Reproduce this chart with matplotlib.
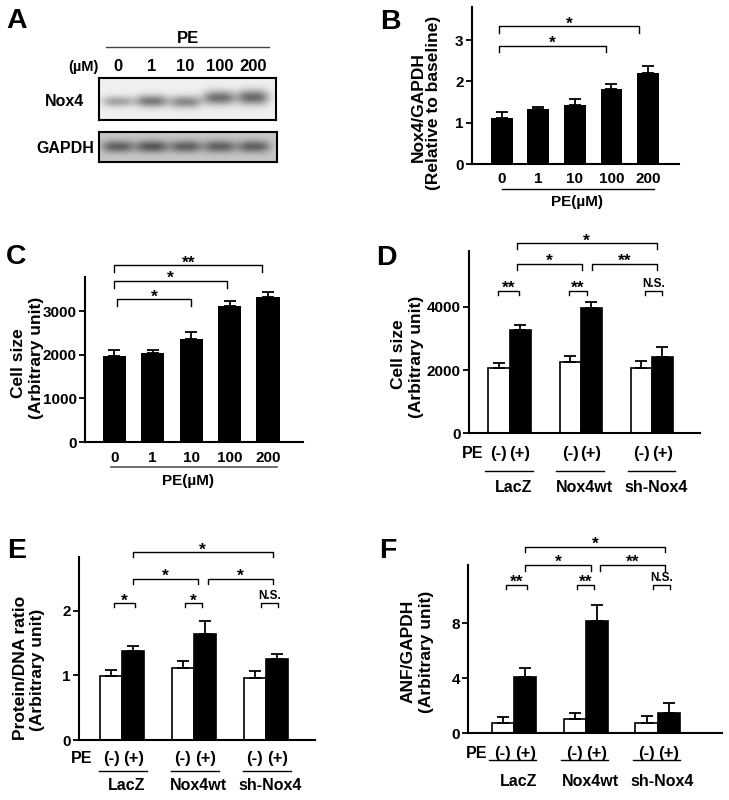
import numpy as np
import matplotlib
matplotlib.use('Agg')
import matplotlib.pyplot as plt
from matplotlib.lines import Line2D
from matplotlib.transforms import blended_transform_factory

plt.rcParams['font.family'] = ['Liberation Sans', 'DejaVu Sans']
plt.rcParams['font.weight'] = 'bold'

W, H = 729, 800

# ---- data ----
pe_doses = ['0', '1', '10', '100', '200']

# A: western blot band darkness per lane
nox4_band = [0.30, 0.46, 0.40, 0.50, 0.52]
nox4_band_y = [0.56, 0.55, 0.57, 0.47, 0.46]
nox4_band_h = [0.13, 0.15, 0.15, 0.17, 0.18]
gapdh_band = [0.40, 0.44, 0.40, 0.40, 0.40]

# B: Nox4/GAPDH
nox4_ratio = [1.12, 1.32, 1.42, 1.82, 2.20]
nox4_ratio_err = [0.15, 0.07, 0.15, 0.12, 0.18]

# C: cell size vs PE dose
cell_size_dose = [1960, 2030, 2370, 3120, 3330]
cell_size_dose_err = [140, 70, 150, 120, 95]

groups = ['LacZ', 'Nox4wt', 'sh-Nox4']
pe_signs = ['(-)', '(+)']

# D: cell size
cell_size_ctrl = [2050, 2250, 2050]
cell_size_ctrl_err = [180, 190, 240]
cell_size_pe = [3260, 3950, 2420]
cell_size_pe_err = [150, 190, 320]

# E: protein/DNA ratio
prot_dna_ctrl = [0.99, 1.12, 0.96]
prot_dna_ctrl_err = [0.09, 0.10, 0.11]
prot_dna_pe = [1.38, 1.64, 1.26]
prot_dna_pe_err = [0.07, 0.20, 0.07]

# F: ANF/GAPDH
anf_ctrl = [0.77, 1.02, 0.77]
anf_ctrl_err = [0.39, 0.43, 0.49]
anf_pe = [4.07, 8.19, 1.45]
anf_pe_err = [0.66, 1.14, 0.78]

fig = plt.figure(figsize=(W / 100, H / 100), dpi=100)


def px_axes(x0, y0, x1, y1):
    return fig.add_axes([x0 / W, 1 - y1 / H, (x1 - x0) / W, (y1 - y0) / H])


def fy(py):
    return 1 - py / H


def fx(px):
    return px / W


def style(ax):
    for s in ['top', 'right']:
        ax.spines[s].set_visible(False)
    ax.spines['left'].set_linewidth(1.5)
    ax.spines['bottom'].set_linewidth(1.5)
    ax.tick_params(axis='y', length=4, width=1.3, labelsize=11, pad=2)
    ax.set_xticks([])
    ax.patch.set_alpha(0)


def bracket(ax, x1, x2, y, drop, label):
    ax.plot([x1, x1, x2, x2], [y - drop, y, y, y - drop], color='k', lw=1.0, clip_on=False)
    if label == 'N.S.':
        ax.annotate(label, ((x1 + x2) / 2, y), xytext=(0, 3), textcoords='offset points',
                    ha='center', va='baseline', fontsize=8.5, annotation_clip=False)
    else:
        ax.annotate(label, ((x1 + x2) / 2, y), xytext=(0, -1.6), textcoords='offset points',
                    ha='center', va='baseline', fontsize=12.5, annotation_clip=False)


def ylab(px, py, s):
    fig.text(fx(px), fy(py), s, rotation=90, ha='center', va='center', fontsize=12.5)


def letter(px, py, s):
    fig.text(fx(px), fy(py), s, ha='center', va='center', fontsize=20.5)


ekw = dict(elinewidth=1.3, capthick=1.3)

# ---------------- A: blot ----------------
axN = px_axes(99, 78.3, 276, 120)
axG = px_axes(99, 131.7, 276.7, 162.3)
lanes = np.arange(len(pe_doses))
ext_l, ext_r = -0.56, 4.68
xs = np.linspace(ext_l, ext_r, 360)
ys = np.linspace(0, 1, 90)
X, Y = np.meshgrid(xs, ys)

img = np.full(X.shape, 0.94)
for i in lanes:
    img -= nox4_band[i] * np.exp(-(np.abs(X - i) / 0.47) ** 3) * \
        np.exp(-((Y - nox4_band_y[i]) / nox4_band_h[i]) ** 2)
axN.imshow(img, cmap='gray', vmin=0, vmax=1, extent=(ext_l, ext_r, 1, 0),
           aspect='auto', interpolation='bilinear')

img2 = np.full(X.shape, 0.78)
for i in lanes:
    img2 -= gapdh_band[i] * np.exp(-(np.abs(X - i) / 0.47) ** 3) * \
        np.exp(-((Y - 0.5) / 0.2) ** 2)
axG.imshow(img2, cmap='gray', vmin=0, vmax=1, extent=(ext_l, ext_r, 1, 0),
           aspect='auto', interpolation='bilinear')

for ax in (axN, axG):
    ax.set_xticks([])
    ax.set_yticks([])
    for s in ax.spines.values():
        s.set_linewidth(1.5)

tA = blended_transform_factory(axN.transData, fig.transFigure)
for i, lab in enumerate(pe_doses):
    axN.text(lanes[i], fy(66.7), lab, transform=tA, ha='center', va='center', fontsize=12)
fig.text(fx(188), fy(38.3), 'PE', ha='center', va='center', fontsize=12)
fig.add_artist(Line2D([fx(106), fx(269)], [fy(46.7), fy(46.7)], color='#444444', lw=1.0,
                      transform=fig.transFigure))
fig.text(fx(83), fy(66.7), '(µM)', ha='center', va='center', fontsize=10.5)
fig.text(fx(65), fy(101.7), 'Nox4', ha='center', va='center', fontsize=11.5)
fig.text(fx(65), fy(148.3), 'GAPDH', ha='center', va='center', fontsize=11.5)
letter(16.3, 21, 'A')

# ---------------- B ----------------
axB = px_axes(472, 7, 679, 164)
xB = np.arange(len(pe_doses))
axB.bar(xB, nox4_ratio, width=0.6, color='k', yerr=[np.zeros(len(xB)), nox4_ratio_err],
        capsize=4, error_kw=ekw)
axB.set_xlim(-0.82, 4.85)
axB.set_ylim(0, 3.8)
axB.set_yticks([0, 1, 2, 3])
style(axB)
tB = blended_transform_factory(axB.transData, fig.transFigure)
for i, lab in enumerate(pe_doses):
    axB.text(xB[i], fy(179), lab, transform=tB, ha='center', va='center', fontsize=11)
axB.plot([xB[0], xB[-1] + 0.16], [fy(189), fy(189)], transform=tB, color='k', lw=1.0, clip_on=False)
axB.text((xB[0] + xB[-1]) / 2 + 0.05, fy(202), 'PE(µM)', transform=tB, ha='center', va='center',
         fontsize=11)
bracket(axB, xB[0] - 0.08, xB[3] - 0.15, 2.86, 0.15, '*')
bracket(axB, xB[0] - 0.08, xB[4] - 0.25, 3.33, 0.15, '*')
ylab(418.3, 107, 'Nox4/GAPDH')
ylab(433.3, 103, '(Relative to baseline)')
letter(390, 21.7, 'B')

# ---------------- C ----------------
axC = px_axes(85, 277, 303, 442)
xC = np.arange(len(pe_doses))
axC.bar(xC, cell_size_dose, width=0.6, color='k',
        yerr=[np.zeros(len(xC)), cell_size_dose_err], capsize=4, error_kw=ekw)
axC.set_xlim(-0.76, 4.91)
axC.set_ylim(0, 3780)
axC.set_yticks([0, 1000, 2000, 3000])
style(axC)
tC = blended_transform_factory(axC.transData, fig.transFigure)
for i, lab in enumerate(pe_doses):
    axC.text(xC[i], fy(458.3), lab, transform=tC, ha='center', va='center', fontsize=11)
axC.plot([xC[0] - 0.08, xC[-1] + 0.23], [fy(466.7), fy(466.7)], transform=tC, color='#555555',
         lw=1.2, clip_on=False)
axC.text(1.93, fy(480.7), 'PE(µM)', transform=tC, ha='center', va='center', fontsize=11)
bracket(axC, xC[0] + 0.07, xC[2], 3265, 160, '*')
bracket(axC, xC[0], xC[3] - 0.06, 3691, 160, '*')
bracket(axC, xC[0], xC[4] - 0.15, 4050, 160, '**')
ylab(18.3, 363, 'Cell size')
ylab(36.7, 358, '(Arbitrary unit)')
letter(16.3, 257, 'C')


# ---------------- grouped panels ----------------
def grouped(ax, ctrl, ctrl_err, pe, pe_err, width, ytick_y, line_y, group_y, line_span):
    g = np.arange(len(groups))
    ax.bar(g - width / 2, ctrl, width=width, color='white', edgecolor='k', linewidth=1.2,
           yerr=[np.zeros(len(g)), ctrl_err], capsize=4, error_kw=ekw)
    ax.bar(g + width / 2, pe, width=width, color='k', edgecolor='k', linewidth=1.2,
           yerr=[np.zeros(len(g)), pe_err], capsize=4, error_kw=ekw)
    style(ax)
    t = blended_transform_factory(ax.transData, fig.transFigure)
    for i in g:
        ax.text(i - width / 2, fy(ytick_y), pe_signs[0], transform=t, ha='center', va='center',
                fontsize=12)
        ax.text(i + width / 2, fy(ytick_y), pe_signs[1], transform=t, ha='center', va='center',
                fontsize=12)
        ax.plot([i + line_span[0], i + line_span[1]], [fy(line_y), fy(line_y)], transform=t,
                color='k', lw=1.0, clip_on=False)
        ax.text(i + 0.06, fy(group_y), groups[i], transform=t, ha='center', va='center',
                fontsize=11.5)
    return g


# D
axD = px_axes(469, 250.7, 700, 433.3)
gD = grouped(axD, cell_size_ctrl, cell_size_ctrl_err, cell_size_pe, cell_size_pe_err,
             0.296, 453.3, 471, 487.3, (-0.34, 0.33))
axD.set_xlim(-0.57, 2.68)
axD.set_ylim(0, 5770)
axD.set_yticks([0, 2000, 4000])
fig.text(fx(473), fy(453.3), 'PE', ha='center', va='center', fontsize=11.5)
bracket(axD, gD[0] - 0.166, gD[0] + 0.134, 4505, 136, '**')
bracket(axD, gD[1] - 0.166, gD[1] + 0.087, 4505, 136, '**')
bracket(axD, gD[2] - 0.092, gD[2] + 0.152, 4505, 136, 'N.S.')
bracket(axD, gD[0] + 0.1, gD[1] + 0.025, 5349, 180, '*')
bracket(axD, gD[1] + 0.16, gD[2] + 0.07, 5349, 180, '**')
bracket(axD, gD[0] + 0.1, gD[2] + 0.07, 6003, 180, '*')
ylab(399, 354, 'Cell size')
ylab(416.7, 356.7, '(Arbitrary unit)')
letter(386, 258.3, 'D')

# E
axE = px_axes(79, 556.7, 315, 740)
gE = grouped(axE, prot_dna_ctrl, prot_dna_ctrl_err, prot_dna_pe, prot_dna_pe_err,
             0.31, 758.3, 770.7, 785, (-0.32, 0.35))
axE.set_xlim(-0.6, 2.68)
axE.set_ylim(0, 2.84)
axE.set_yticks([0, 1, 2])
fig.text(fx(81.7), fy(758.3), 'PE', ha='center', va='center', fontsize=11.5)
bracket(axE, gE[0] - 0.12, gE[0] + 0.18, 2.12, 0.062, '*')
bracket(axE, gE[1] - 0.125, gE[1] + 0.11, 2.12, 0.062, '*')
bracket(axE, gE[2] - 0.07, gE[2] + 0.16, 2.12, 0.062, 'N.S.')
bracket(axE, gE[0] + 0.15, gE[1] + 0.06, 2.50, 0.082, '*')
bracket(axE, gE[1] + 0.19, gE[2] + 0.09, 2.50, 0.082, '*')
bracket(axE, gE[0] + 0.15, gE[2] + 0.09, 2.91, 0.082, '*')
ylab(21, 668, 'Protein/DNA ratio')
ylab(37.3, 670, '(Arbitrary unit)')
letter(16.3, 551, 'E')

# F
axF = px_axes(468.3, 565, 721.7, 733.3)
gF = grouped(axF, anf_ctrl, anf_ctrl_err, anf_pe, anf_pe_err,
             0.31, 753.3, 760, 782, (-0.35, 0.31))
axF.set_xlim(-0.636, 2.89)
axF.set_ylim(0, 12.24)
axF.set_yticks([0, 4, 8])
fig.text(fx(476.7), fy(753.3), 'PE', ha='center', va='center', fontsize=11.5)
bracket(axF, gF[0] - 0.116, gF[0] + 0.185, 10.79, 0.29, '**')
bracket(axF, gF[1] - 0.127, gF[1] + 0.118, 10.79, 0.29, '**')
bracket(axF, gF[2] - 0.07, gF[2] + 0.177, 10.79, 0.29, 'N.S.')
bracket(axF, gF[0] + 0.153, gF[1] + 0.07, 12.24, 0.4, '*')
bracket(axF, gF[1] + 0.19, gF[2] + 0.10, 12.24, 0.4, '**')
bracket(axF, gF[0] + 0.153, gF[2] + 0.10, 13.57, 0.4, '*')
ylab(408.3, 651, 'ANF/GAPDH')
ylab(426.7, 651.7, '(Arbitrary unit)')
letter(388, 551, 'F')

fig.savefig('out.png', dpi=100)
